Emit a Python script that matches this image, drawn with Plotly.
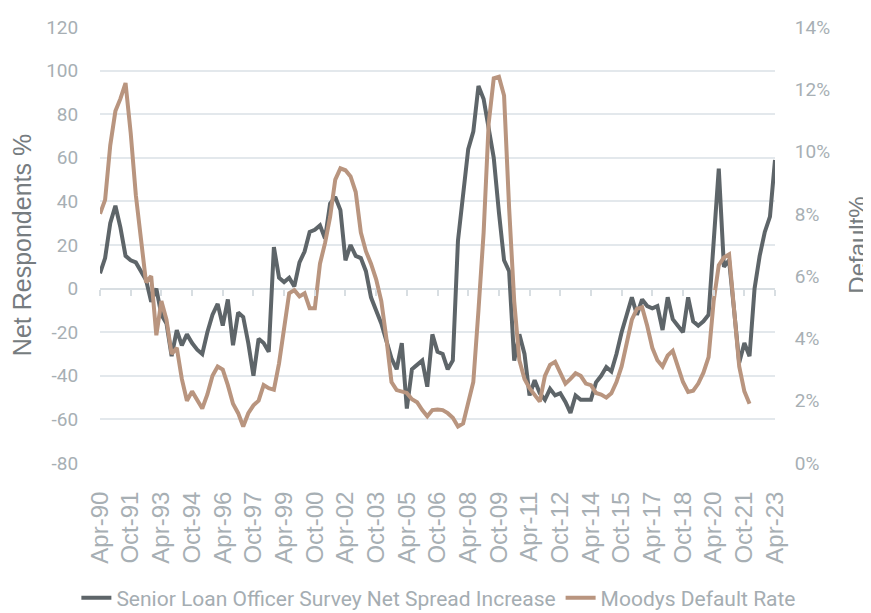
import plotly.graph_objects as go

# ---- data (quarterly, Apr-90 .. Apr-23) ----
start_year, start_month = 1990, 4
sloos = [7, 14, 30, 38, 28, 15, 13, 12, 8, 4,
         -6, 0, -12, -16, -31, -19, -26, -21, -25, -28,
         -30, -20, -12, -7, -17, -5, -26, -11, -13, -25,
         -40, -23, -25, -29, 19, 5, 3, 5, 1, 12,
         17, 26, 27, 29, 23, 39, 42, 36, 13, 20,
         15, 14, 8, -4, -10, -16, -24, -32, -37, -25,
         -55, -37, -35, -33, -45, -21, -29, -30, -37, -33,
         22, 42, 64, 72, 93, 87, 74, 60, 35, 13,
         8, -33, -21, -30, -49, -42, -48, -51, -46, -49,
         -48, -52, -57, -49, -51, -51, -51, -43, -40, -36,
         -38, -30, -20, -12, -4, -12, -5, -8, -9, -8,
         -19, -4, -14, -17, -20, -4, -15, -17, -15, -12,
         25, 55, 10, 13, -10, -34, -25, -31, 0, 15,
         26, 33, 59]
moodys = [8.0, 8.45, 10.2, 11.3, 11.7, 12.2, 10.6, 8.6, 7.2, 5.8,
          6.0, 4.1, 5.2, 4.6, 3.5, 3.7, 2.7, 2.0, 2.3, 2.0,
          1.75, 2.2, 2.8, 3.1, 3.0, 2.5, 1.9, 1.6, 1.17, 1.6,
          1.85, 2.0, 2.5, 2.4, 2.35, 3.2, 4.3, 5.45, 5.55, 5.35,
          5.45, 4.97, 4.97, 6.4, 7.06, 7.9, 9.1, 9.46, 9.4, 9.2,
          8.7, 7.4, 6.8, 6.4, 5.9, 5.2, 4.0, 2.6, 2.34, 2.3,
          2.25, 2.05, 1.95, 1.7, 1.5, 1.7, 1.72, 1.7, 1.6, 1.45,
          1.17, 1.27, 1.92, 2.6, 4.9, 7.4, 10.9, 12.35, 12.4, 11.8,
          8.2, 5.2, 3.3, 2.7, 2.4, 2.2, 1.97, 2.8, 3.15, 3.25,
          2.9, 2.55, 2.7, 2.88, 2.8, 2.55, 2.5, 2.25, 2.2, 2.1,
          2.24, 2.6, 3.1, 3.9, 4.6, 4.95, 5.0, 4.4, 3.7, 3.3,
          3.1, 3.45, 3.6, 3.1, 2.6, 2.28, 2.32, 2.55, 2.9, 3.4,
          5.2, 6.35, 6.6, 6.7, 4.8, 3.1, 2.3, 1.9]
tick_labels = ["Apr-90", "Oct-91", "Apr-93", "Oct-94", "Apr-96", "Oct-97", "Apr-99",
               "Oct-00", "Apr-02", "Oct-03", "Apr-05", "Oct-06", "Apr-08", "Oct-09",
               "Apr-11", "Oct-12", "Apr-14", "Oct-15", "Apr-17", "Oct-18", "Apr-20",
               "Oct-21", "Apr-23"]
left_ticks = [-80, -60, -40, -20, 0, 20, 40, 60, 80, 100, 120]
right_ticks = [0, 2, 4, 6, 8, 10, 12, 14]

def qdate(i):
    m = start_month - 1 + 3 * i
    return f"{start_year + m // 12}-{m % 12 + 1:02d}-01"

def label_date(lbl):
    mon = {"Apr": 4, "Oct": 10}[lbl[:3]]
    yy = int(lbl[-2:])
    yr = 1900 + yy if yy >= 50 else 2000 + yy
    return f"{yr}-{mon:02d}-01"

dates = [qdate(i) for i in range(len(sloos))]
tick_vals = [label_date(l) for l in tick_labels]

GRAY = "#5e6569"
BROWN = "#b9957f"
TICK = "#a7afb4"
TITLE = "#767c80"
GRID = "#e3e8ec"
TFONT = "Roboto, Liberation Sans, sans-serif"
REG = "Liberation Sans, Arial, sans-serif"

fig = go.Figure()
fig.add_trace(go.Scatter(x=dates, y=sloos, mode="lines",
                         name="Senior Loan Officer Survey Net Spread Increase",
                         line=dict(color=GRAY, width=4)))
fig.add_trace(go.Scatter(x=dates[:len(moodys)], y=moodys, mode="lines",
                         name="Moodys Default Rate", yaxis="y2",
                         line=dict(color=BROWN, width=4)))
fig.add_trace(go.Scatter(x=[dates[0]], y=[None], xaxis="x2", showlegend=False,
                         hoverinfo="skip", mode="lines"))

# page has an 8px body margin, so the figure is sized/offset to compensate
fig.update_layout(
    width=863, height=605,
    margin=dict(l=92, r=96, t=19, b=150, autoexpand=False),
    paper_bgcolor="white", plot_bgcolor="white",
    showlegend=True,
    legend=dict(orientation="h", x=-0.035, xanchor="left", y=-0.31, yanchor="middle",
                font=dict(family=TFONT, size=21, color="#a5adb2"),
                itemwidth=30, tracegroupgap=0),
    xaxis=dict(type="date", range=[dates[0], dates[-1]], automargin=False,
               tickvals=tick_vals, ticktext=tick_labels, tickangle=-90,
               tickfont=dict(family=REG, size=24, color=TICK),
               ticks="outside", ticklen=6, tickcolor="rgba(0,0,0,0)",
               ticklabelstandoff=12,
               showgrid=False, showline=False, zeroline=False),
    xaxis2=dict(type="date", overlaying="x", matches="x", anchor="free", position=0.4,
                side="bottom", range=[dates[0], dates[-1]], automargin=False,
                tickvals=tick_vals, ticks="outside", ticklen=6, tickwidth=2,
                tickcolor="#d8dee2", showticklabels=False, showgrid=False,
                showline=False, zeroline=False),
    yaxis=dict(range=[-80, 120], tickvals=left_ticks, automargin=False,
               ticktext=[str(v) for v in left_ticks],
               gridcolor=GRID, gridwidth=2,
               zeroline=True, zerolinecolor="#d8dee2", zerolinewidth=2,
               ticks="outside", ticklen=17, tickcolor="rgba(0,0,0,0)",
               tickfont=dict(family=TFONT, size=19, color=TICK),
               title=dict(text="Net Respondents %", standoff=8,
                          font=dict(family=REG, size=25, color=TITLE))),
    yaxis2=dict(overlaying="y", side="right", range=[0, 14], tickvals=right_ticks,
                automargin=False,
                ticktext=[f"{v}%" for v in right_ticks],
                showgrid=False, zeroline=False,
                ticks="outside", ticklen=15, tickcolor="rgba(0,0,0,0)",
                tickfont=dict(family=TFONT, size=19, color=TICK),
                title=dict(text="Default%", standoff=20,
                           font=dict(family=REG, size=24, color=TITLE))),
)

fig.write_html("out.html")
